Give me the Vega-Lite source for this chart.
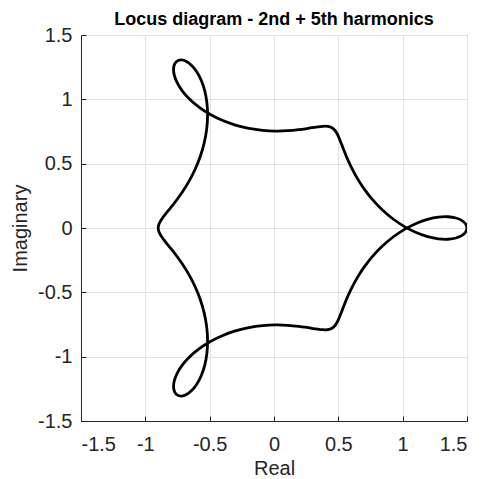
{
  "$schema": "https://vega.github.io/schema/vega-lite/v6.json",
  "width": 386,
  "height": 386,
  "autosize": {"type": "none"},
  "padding": {"left": 81, "top": 35, "right": 16, "bottom": 58},
  "background": "white",
  "config": {
    "font": "Liberation Sans",
    "view": {"stroke": "#262626", "strokeWidth": 1},
    "axis": {
      "labelFont": "Liberation Sans",
      "titleFont": "Liberation Sans",
      "labelFontSize": 20,
      "titleFontSize": 20,
      "titleFontWeight": "normal",
      "labelColor": "#262626",
      "titleColor": "#262626",
      "domainColor": "#262626",
      "domainWidth": 1,
      "tickColor": "#262626",
      "tickSize": -5,
      "gridColor": "#e3e3e3",
      "gridWidth": 1
    }
  },
  "title": {
    "text": "Locus diagram - 2nd + 5th harmonics",
    "fontSize": 18,
    "fontWeight": "bold",
    "font": "Liberation Sans",
    "color": "#000000",
    "frame": "group",
    "offset": -4
  },
  "data": {
    "values": [
      {"t": 0, "x": 1.5, "y": 0},
      {"t": 3, "x": 1.4902, "y": -0.0308},
      {"t": 6, "x": 1.4612, "y": -0.0578},
      {"t": 9, "x": 1.4144, "y": -0.0777},
      {"t": 12, "x": 1.3522, "y": -0.0873},
      {"t": 15, "x": 1.2775, "y": -0.0844},
      {"t": 18, "x": 1.1938, "y": -0.0673},
      {"t": 21, "x": 1.1048, "y": -0.0356},
      {"t": 24, "x": 1.0143, "y": 0.0106},
      {"t": 27, "x": 0.9259, "y": 0.0699},
      {"t": 30, "x": 0.8428, "y": 0.1402},
      {"t": 33, "x": 0.7675, "y": 0.2188},
      {"t": 36, "x": 0.7017, "y": 0.3025},
      {"t": 39, "x": 0.6463, "y": 0.3876},
      {"t": 42, "x": 0.6013, "y": 0.4708},
      {"t": 45, "x": 0.5657, "y": 0.5485},
      {"t": 48, "x": 0.5378, "y": 0.618},
      {"t": 51, "x": 0.5152, "y": 0.6769},
      {"t": 54, "x": 0.4951, "y": 0.7237},
      {"t": 57, "x": 0.4744, "y": 0.7578},
      {"t": 60, "x": 0.45, "y": 0.7794},
      {"t": 63, "x": 0.4191, "y": 0.7897},
      {"t": 66, "x": 0.3792, "y": 0.7906},
      {"t": 69, "x": 0.3286, "y": 0.7846},
      {"t": 72, "x": 0.2663, "y": 0.7747},
      {"t": 75, "x": 0.1922, "y": 0.7642},
      {"t": 78, "x": 0.1071, "y": 0.7561},
      {"t": 81, "x": 0.0125, "y": 0.7536},
      {"t": 84, "x": -0.0889, "y": 0.759},
      {"t": 87, "x": -0.1943, "y": 0.7741},
      {"t": 90, "x": -0.3, "y": 0.8},
      {"t": 93, "x": -0.4025, "y": 0.8368},
      {"t": 96, "x": -0.498, "y": 0.8837},
      {"t": 99, "x": -0.5832, "y": 0.939},
      {"t": 102, "x": -0.6552, "y": 1.0002},
      {"t": 105, "x": -0.7118, "y": 1.0642},
      {"t": 108, "x": -0.7517, "y": 1.1274},
      {"t": 111, "x": -0.7745, "y": 1.1861},
      {"t": 114, "x": -0.7807, "y": 1.2365},
      {"t": 117, "x": -0.7718, "y": 1.2752},
      {"t": 120, "x": -0.75, "y": 1.299},
      {"t": 123, "x": -0.7184, "y": 1.3059},
      {"t": 126, "x": -0.6805, "y": 1.2944},
      {"t": 129, "x": -0.6399, "y": 1.2638},
      {"t": 132, "x": -0.6005, "y": 1.2147},
      {"t": 135, "x": -0.5657, "y": 1.1485},
      {"t": 138, "x": -0.5386, "y": 1.0675},
      {"t": 141, "x": -0.5216, "y": 0.9745},
      {"t": 144, "x": -0.5163, "y": 0.8731},
      {"t": 147, "x": -0.5235, "y": 0.767},
      {"t": 150, "x": -0.5428, "y": 0.6598},
      {"t": 153, "x": -0.5733, "y": 0.5553},
      {"t": 156, "x": -0.6128, "y": 0.4565},
      {"t": 159, "x": -0.6589, "y": 0.3659},
      {"t": 162, "x": -0.7084, "y": 0.2853},
      {"t": 165, "x": -0.7579, "y": 0.2156},
      {"t": 168, "x": -0.8041, "y": 0.1567},
      {"t": 171, "x": -0.8438, "y": 0.1077},
      {"t": 174, "x": -0.8743, "y": 0.0669},
      {"t": 177, "x": -0.8935, "y": 0.0319},
      {"t": 180, "x": -0.9, "y": 0},
      {"t": 183, "x": -0.8935, "y": -0.0319},
      {"t": 186, "x": -0.8743, "y": -0.0669},
      {"t": 189, "x": -0.8438, "y": -0.1077},
      {"t": 192, "x": -0.8041, "y": -0.1567},
      {"t": 195, "x": -0.7579, "y": -0.2156},
      {"t": 198, "x": -0.7084, "y": -0.2853},
      {"t": 201, "x": -0.6589, "y": -0.3659},
      {"t": 204, "x": -0.6128, "y": -0.4565},
      {"t": 207, "x": -0.5733, "y": -0.5553},
      {"t": 210, "x": -0.5428, "y": -0.6598},
      {"t": 213, "x": -0.5235, "y": -0.767},
      {"t": 216, "x": -0.5163, "y": -0.8731},
      {"t": 219, "x": -0.5216, "y": -0.9745},
      {"t": 222, "x": -0.5386, "y": -1.0675},
      {"t": 225, "x": -0.5657, "y": -1.1485},
      {"t": 228, "x": -0.6005, "y": -1.2147},
      {"t": 231, "x": -0.6399, "y": -1.2638},
      {"t": 234, "x": -0.6805, "y": -1.2944},
      {"t": 237, "x": -0.7184, "y": -1.3059},
      {"t": 240, "x": -0.75, "y": -1.299},
      {"t": 243, "x": -0.7718, "y": -1.2752},
      {"t": 246, "x": -0.7807, "y": -1.2365},
      {"t": 249, "x": -0.7745, "y": -1.1861},
      {"t": 252, "x": -0.7517, "y": -1.1274},
      {"t": 255, "x": -0.7118, "y": -1.0642},
      {"t": 258, "x": -0.6552, "y": -1.0002},
      {"t": 261, "x": -0.5832, "y": -0.939},
      {"t": 264, "x": -0.498, "y": -0.8837},
      {"t": 267, "x": -0.4025, "y": -0.8368},
      {"t": 270, "x": -0.3, "y": -0.8},
      {"t": 273, "x": -0.1943, "y": -0.7741},
      {"t": 276, "x": -0.0889, "y": -0.759},
      {"t": 279, "x": 0.0125, "y": -0.7536},
      {"t": 282, "x": 0.1071, "y": -0.7561},
      {"t": 285, "x": 0.1922, "y": -0.7642},
      {"t": 288, "x": 0.2663, "y": -0.7747},
      {"t": 291, "x": 0.3286, "y": -0.7846},
      {"t": 294, "x": 0.3792, "y": -0.7906},
      {"t": 297, "x": 0.4191, "y": -0.7897},
      {"t": 300, "x": 0.45, "y": -0.7794},
      {"t": 303, "x": 0.4744, "y": -0.7578},
      {"t": 306, "x": 0.4951, "y": -0.7237},
      {"t": 309, "x": 0.5152, "y": -0.6769},
      {"t": 312, "x": 0.5378, "y": -0.618},
      {"t": 315, "x": 0.5657, "y": -0.5485},
      {"t": 318, "x": 0.6013, "y": -0.4708},
      {"t": 321, "x": 0.6463, "y": -0.3876},
      {"t": 324, "x": 0.7017, "y": -0.3025},
      {"t": 327, "x": 0.7675, "y": -0.2188},
      {"t": 330, "x": 0.8428, "y": -0.1402},
      {"t": 333, "x": 0.9259, "y": -0.0699},
      {"t": 336, "x": 1.0143, "y": -0.0106},
      {"t": 339, "x": 1.1048, "y": 0.0356},
      {"t": 342, "x": 1.1938, "y": 0.0673},
      {"t": 345, "x": 1.2775, "y": 0.0844},
      {"t": 348, "x": 1.3522, "y": 0.0873},
      {"t": 351, "x": 1.4144, "y": 0.0777},
      {"t": 354, "x": 1.4612, "y": 0.0578},
      {"t": 357, "x": 1.4902, "y": 0.0308},
      {"t": 360, "x": 1.5, "y": 0}
    ]
  },
  "mark": {"type": "line", "color": "#000000", "strokeWidth": 2.8, "interpolate": "catmull-rom", "clip": true},
  "encoding": {
    "x": {
      "field": "x",
      "type": "quantitative",
      "scale": {"domain": [-1.5, 1.5], "nice": false, "zero": false},
      "axis": {
        "title": "Real",
        "values": [-1.5, -1, -0.5, 0, 0.5, 1, 1.5],
        "labelExpr": "toString(datum.value)",
        "labelPadding": 18,
        "titlePadding": 4,
        "grid": true
      }
    },
    "y": {
      "field": "y",
      "type": "quantitative",
      "scale": {"domain": [-1.5, 1.5], "nice": false, "zero": false},
      "axis": {
        "title": "Imaginary",
        "values": [-1.5, -1, -0.5, 0, 0.5, 1, 1.5],
        "labelExpr": "toString(datum.value)",
        "labelPadding": 14,
        "titlePadding": 7,
        "grid": true
      }
    },
    "order": {"field": "t", "type": "quantitative"}
  }
}
